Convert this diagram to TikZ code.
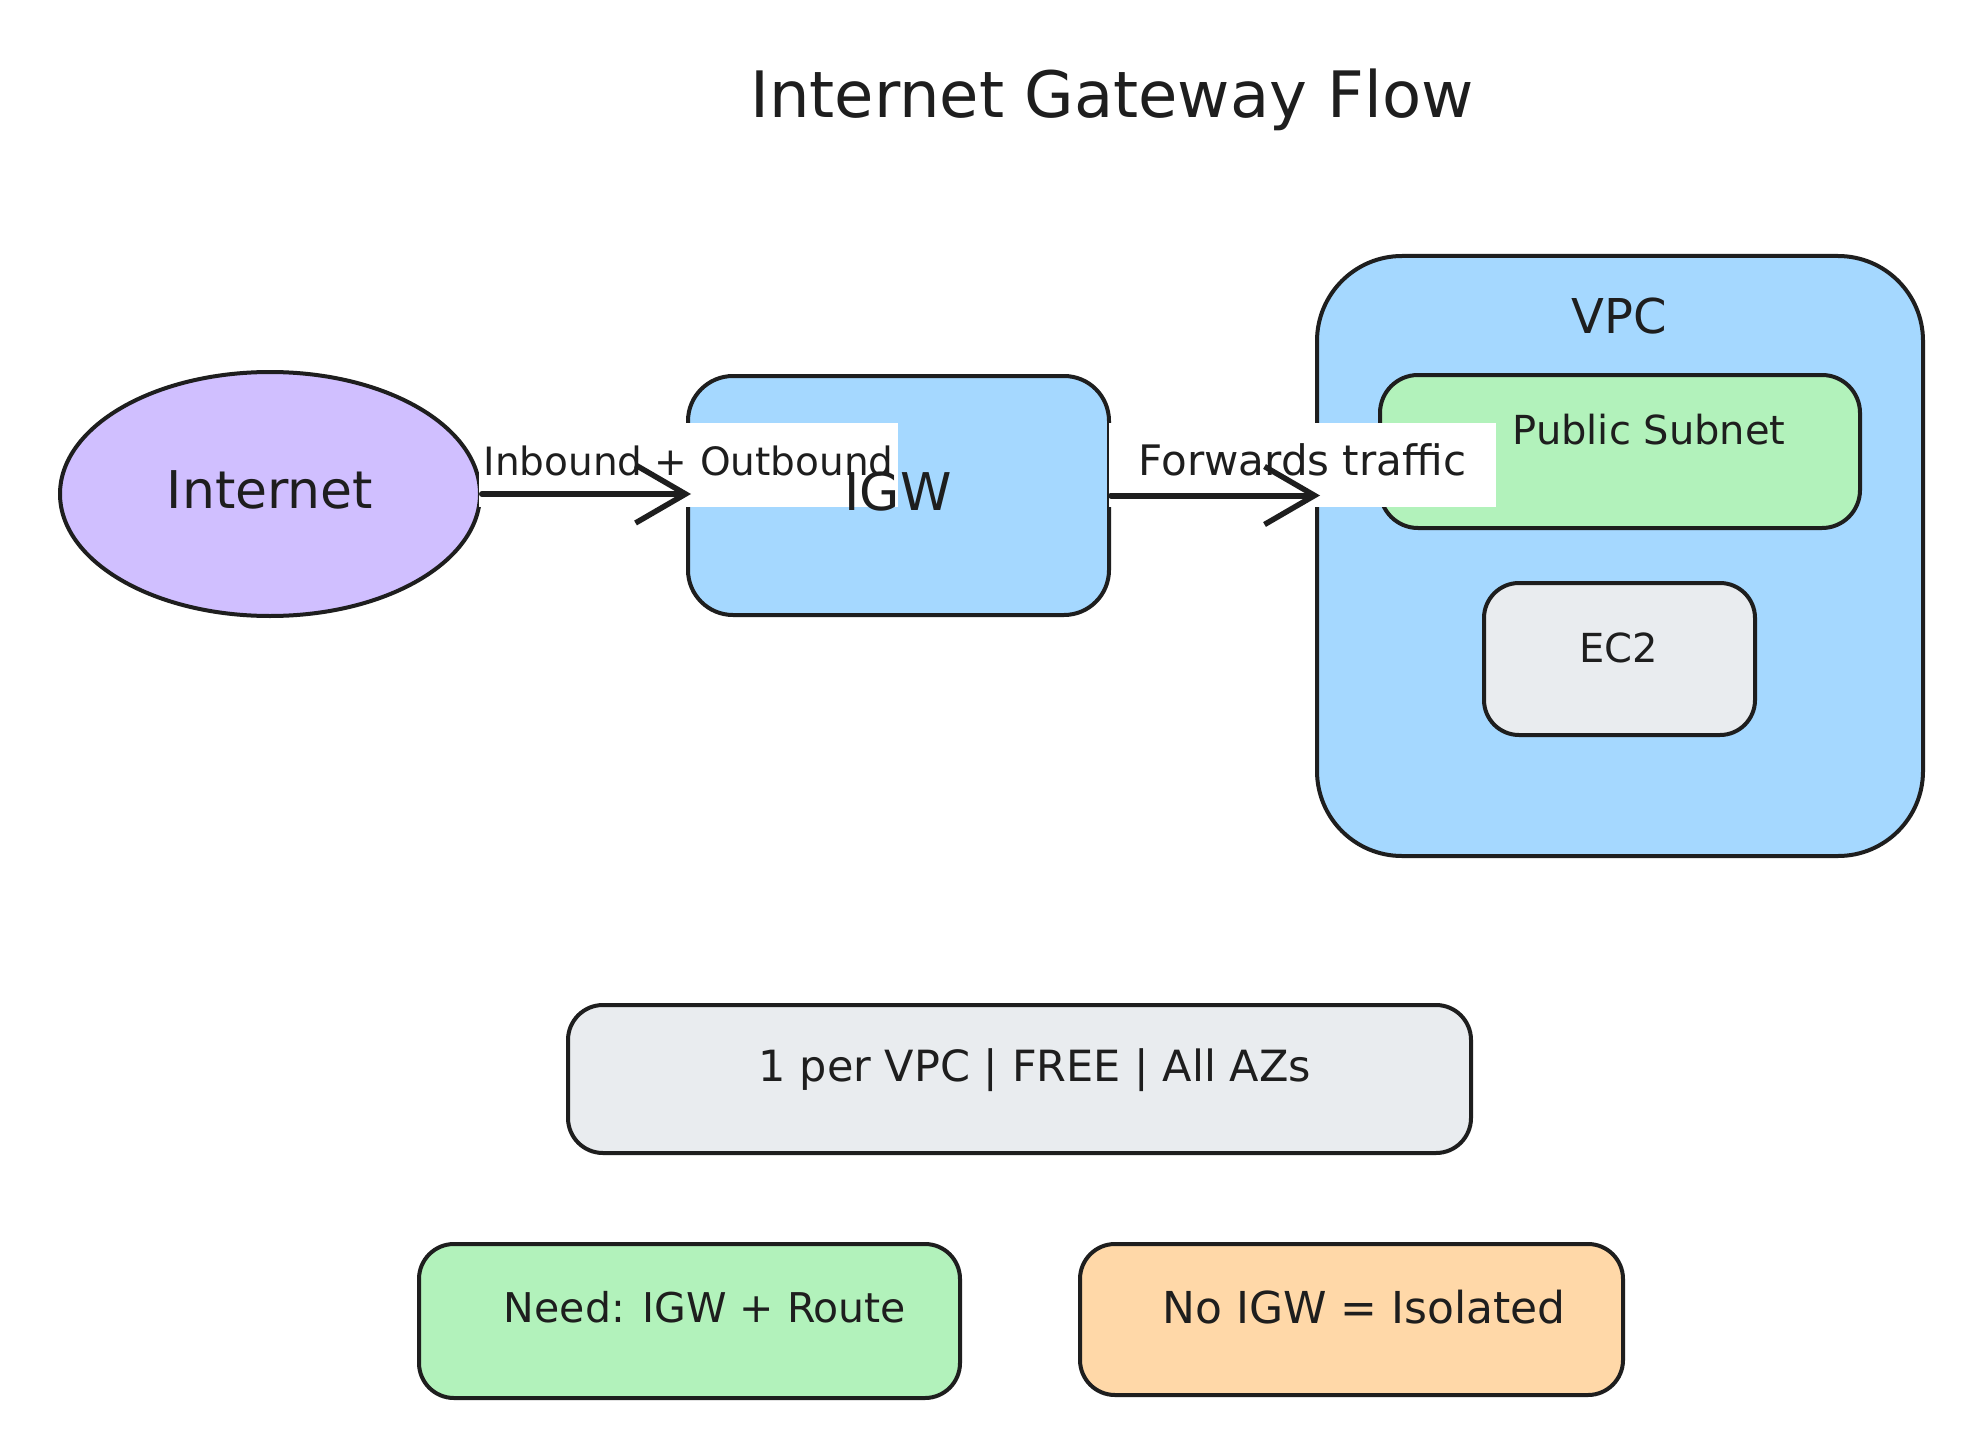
\documentclass[tikz,border=0pt]{standalone}
\usepackage{fontspec}
\setmainfont{DejaVu Sans}
\usetikzlibrary{arrows.meta,shapes.geometric}
\definecolor{ink}{HTML}{1E1E1E}
\definecolor{cpurple}{HTML}{D0BFFF}
\definecolor{cblue}{HTML}{A5D8FF}
\definecolor{cgreen}{HTML}{B2F2BB}
\definecolor{cgray}{HTML}{E9ECEF}
\definecolor{corange}{HTML}{FFD8A8}
\newcommand{\fs}[1]{\fontsize{#1}{#1}\selectfont}
\begin{document}
\begin{tikzpicture}[x=1pt,y=-1pt,
  outline/.style={draw=ink,line width=4pt,inner sep=0pt},
  rbox/.style={outline,rectangle,rounded corners=#1},
  txt/.style={text=ink,inner sep=0pt},
  elabel/.style={fill=white,text=ink,inner xsep=4pt,inner ysep=0pt,text height=52pt,text depth=32pt,anchor=base},
  arrow/.style={draw=ink,line width=6pt,line cap=round,shorten >=-5pt,-{Straight Barb[length=50pt,width=58pt,line width=5.5pt]}}
]
\useasboundingbox[fill=white] (0,0) rectangle (1980,1455);

% title
\node[txt] (title) at (1112,100) {\fs{64}Internet Gateway Flow};

% shapes
\node[outline,ellipse,fill=cpurple,minimum width=420pt,minimum height=244pt] (inet) at (270,494) {};
\node[rbox=45pt,fill=cblue,minimum width=421pt,minimum height=239pt] (igw) at (898.5,495.5) {};
\node[rbox=85pt,fill=cblue,minimum width=606pt,minimum height=600pt] (vpc) at (1620,556) {};
\node[rbox=38pt,fill=cgreen,minimum width=480pt,minimum height=153pt] (subnet) at (1620,451.5) {};
\node[rbox=35pt,fill=cgray,minimum width=271pt,minimum height=152pt] (ec2) at (1619.5,659) {};
\node[rbox=35pt,fill=cgray,minimum width=903pt,minimum height=148pt] (info) at (1019.5,1079) {};
\node[rbox=35pt,fill=cgreen,minimum width=541pt,minimum height=154pt] (need) at (689.5,1321) {};
\node[rbox=35pt,fill=corange,minimum width=543pt,minimum height=151pt] (noigw) at (1351.5,1319.5) {};

% edge labels
\node[elabel,minimum width=417pt] (lab1) at (688.5,475) {\fs{39}Inbound + Outbound};
\node[elabel,minimum width=387pt] (lab2) at (1302.5,475) {\fs{42}Forwards traffic};

% connectors
\draw[arrow] (inet.east) -- (inet.east -| igw.west);
\draw[arrow] (igw.east) -- (igw.east -| vpc.west);

% node texts
\node[txt] (inettxt) at (270,490) {\fs{52}Internet};
\node[txt] (igwtxt) at (898,492) {\fs{52}IGW};
\node[txt] (vpctxt) at (1619,316) {\fs{48}VPC};
\node[txt] (subnettxt) at (1649,430) {\fs{40}Public Subnet};
\node[txt] (ec2txt) at (1619,648) {\fs{40}EC2};
\node[txt] (infotxt) at (1035,1070) {\fs{43}1 per VPC | FREE | All AZs};
\node[txt] (needtxt) at (705,1307) {\fs{41}Need: IGW + Route};
\node[txt] (noigwtxt) at (1364,1307) {\fs{44}No IGW = Isolated};
\end{tikzpicture}
\end{document}
